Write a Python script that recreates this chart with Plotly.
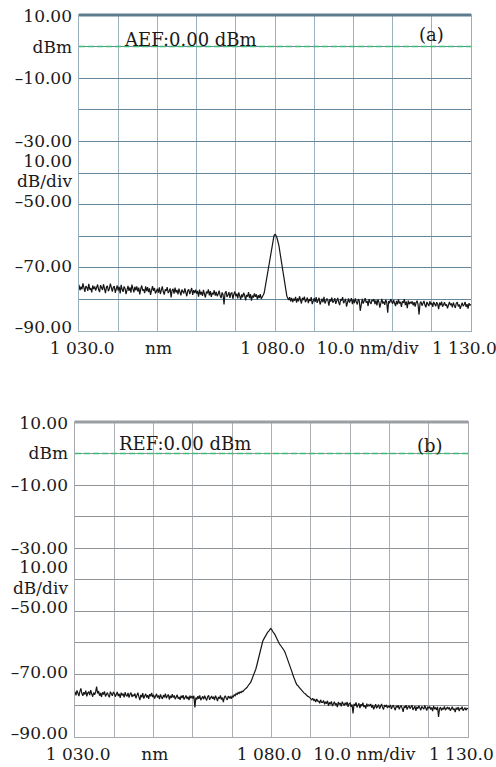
import numpy as np
import plotly.graph_objects as go

# ---------------- data ----------------
WAVELENGTH_NM = np.linspace(1030.0, 1130.0, 401)  # 0.25 nm sampling

POWER_A_DBM = [
    -75.4, -77.1, -76.0, -76.8, -74.9, -76.5, -77.6, -75.8, -76.2, -77.3, -75.1, -76.9, -76.4, -77.8, -75.6, -76.7, -75.9, -77.2, -76.1, -75.3,
    -76.9, -77.7, -75.5, -76.3, -77.0, -75.2, -76.8, -78.0, -76.1, -75.7, -77.4, -76.6, -75.0, -76.9, -77.5, -76.2, -75.8, -77.9, -76.4, -75.6,
    -77.2, -76.0, -78.1, -75.4, -76.8, -77.6, -75.9, -76.5, -78.3, -76.9, -75.7, -77.3, -76.2, -77.9, -75.3, -76.6, -77.8, -76.0, -77.1, -75.9,
    -77.5, -76.3, -78.4, -76.7, -75.6, -77.2, -76.8, -78.0, -75.9, -77.4, -76.1, -77.7, -76.5, -78.6, -76.9, -75.8, -77.3, -76.4, -78.1, -77.0,
    -76.6, -77.9, -76.2, -78.3, -77.0, -75.9, -77.6, -78.5, -76.8, -77.3, -76.1, -78.0, -77.4, -76.5, -79.4, -77.1, -76.7, -78.2, -76.3, -77.8,
    -77.0, -78.4, -76.6, -77.9, -78.7, -76.9, -77.4, -78.1, -76.5, -77.8, -79.0, -77.2, -76.8, -78.3, -77.5, -76.4, -78.6, -77.1, -78.0, -76.9,
    -78.2, -77.3, -79.1, -76.9, -78.5, -77.6, -78.9, -77.0, -78.3, -79.4, -77.5, -78.1, -76.8, -78.7, -77.4, -79.2, -77.9, -78.4, -77.1, -78.8,
    -77.6, -79.0, -78.3, -77.2, -78.8, -79.6, -77.8, -78.5, -81.6, -78.0, -77.4, -79.2, -78.6, -77.7, -79.5, -78.1, -77.9, -79.8, -78.4, -77.5,
    -79.0, -78.2, -79.7, -77.8, -78.9, -80.1, -78.4, -79.3, -77.9, -78.7, -80.3, -78.6, -79.1, -77.7, -79.6, -78.3, -80.4, -78.8, -79.4, -78.1,
    -79.2, -78.4, -80.0, -78.7, -79.5, -78.3, -79.8, -78.9, -78.6, -77.9, -76.0, -74.5, -72.5, -70.6, -68.5, -66.4, -64.5, -62.4, -60.8, -59.8,
    -59.4, -59.7, -60.5, -61.6, -63.0, -65.0, -67.0, -69.3, -71.5, -73.6, -75.5, -77.4, -78.8, -79.6, -80.2, -79.3, -80.6, -79.5, -80.9, -79.8,
    -80.4, -79.2, -81.0, -79.7, -80.6, -79.0, -80.8, -81.3, -79.5, -80.2, -79.1, -80.9, -80.3, -79.4, -81.2, -79.9, -80.5, -79.3, -81.5, -80.1,
    -79.6, -80.8, -79.3, -81.1, -80.0, -79.5, -81.6, -80.4, -79.8, -80.9, -79.2, -81.3, -80.6, -79.7, -80.3, -82.0, -79.9, -80.7, -79.4, -81.0,
    -80.5, -79.6, -81.4, -80.1, -79.5, -80.9, -81.8, -79.9, -80.4, -79.3, -81.2, -80.6, -79.8, -82.3, -80.2, -79.7, -81.0, -80.3, -79.6, -81.5,
    -80.0, -81.2, -79.7, -80.8, -81.6, -79.9, -80.4, -83.6, -80.7, -79.8, -81.3, -80.2, -79.6, -81.0, -80.5, -82.1, -79.9, -80.9, -81.4, -80.1,
    -80.6, -79.9, -81.5, -80.3, -81.9, -80.0, -80.8, -82.6, -80.4, -79.8, -81.3, -80.7, -81.7, -80.1, -80.9, -84.2, -80.5, -81.2, -79.9, -81.0,
    -81.4, -80.2, -81.0, -82.1, -80.5, -81.6, -80.0, -81.3, -80.8, -82.4, -80.6, -81.1, -79.9, -81.8, -80.7, -82.8, -80.4, -81.5, -80.9, -81.2,
    -80.6, -81.9, -80.9, -82.3, -81.0, -80.4, -81.7, -84.8, -81.2, -80.7, -82.0, -81.4, -80.5, -81.8, -82.5, -80.8, -81.3, -82.1, -80.6, -81.6,
    -81.1, -82.4, -80.8, -81.7, -82.2, -80.9, -81.5, -83.1, -81.0, -81.9, -80.7, -82.3, -81.4, -80.9, -82.0, -81.6, -82.8, -81.2, -80.8, -81.8,
    -81.3, -82.5, -81.0, -81.9, -82.7, -81.2, -80.9, -82.2, -81.6, -83.0, -81.4, -81.0, -82.1, -81.7, -80.8, -82.4, -81.5, -82.9, -81.2, -81.8,
    -81.6,
]

POWER_B_DBM = [
    -75.6, -76.8, -75.2, -76.4, -77.0, -75.5, -74.6, -76.2, -76.9, -75.8, -76.5, -75.3, -77.1, -76.0, -75.7, -76.7, -75.1, -76.3, -77.2, -75.9,
    -76.6, -75.7, -74.0, -76.2, -75.4, -76.9, -76.0, -77.3, -75.8, -76.5, -75.5, -77.1, -76.4, -75.9, -76.8, -77.4, -75.6, -76.3, -76.9, -75.8,
    -76.1, -77.2, -76.5, -75.7, -77.0, -76.3, -77.6, -75.9, -76.8, -76.2, -77.4, -75.8, -76.7, -77.1, -76.0, -77.5, -76.4, -75.9, -77.3, -76.6,
    -77.0, -76.2, -77.7, -76.5, -75.9, -77.2, -78.3, -76.6, -77.4, -76.1, -77.8, -76.9, -76.3, -77.5, -76.7, -77.9, -76.4, -77.1, -76.0, -77.3,
    -76.6, -77.8, -77.1, -76.3, -77.5, -76.8, -78.0, -76.5, -77.3, -77.9, -76.7, -77.4, -76.2, -77.7, -77.0, -76.5, -78.1, -76.9, -77.6, -76.4,
    -77.5, -76.8, -78.0, -77.1, -76.6, -77.8, -77.3, -78.2, -76.9, -77.6, -76.7, -78.1, -77.4, -76.8, -77.9, -77.2, -78.3, -76.9, -77.7, -77.0,
    -77.8, -76.9, -80.6, -77.5, -78.1, -77.0, -77.9, -76.8, -78.3, -77.4, -77.1, -78.0, -76.9, -77.7, -78.4, -77.2, -76.8, -78.2, -77.5, -77.0,
    -77.9, -77.2, -78.3, -76.9, -77.6, -78.6, -77.3, -77.8, -76.8, -78.1, -77.5, -78.9, -77.4, -76.9, -77.8, -78.2, -77.0, -77.6, -77.2, -77.9,
    -76.9, -77.4, -76.6, -76.9, -76.2, -76.5, -75.9, -76.2, -75.7, -75.9, -75.5, -75.6, -75.1, -74.9, -74.5, -74.3, -73.8, -73.5, -73.0, -72.5,
    -71.8, -71.1, -70.3, -69.5, -68.5, -67.3, -66.0, -64.4, -63.0, -61.7, -60.6, -59.7, -59.0, -58.4, -57.6, -57.3, -56.8, -56.5, -56.0, -55.6,
    -55.8, -56.5, -56.9, -57.2, -57.9, -58.2, -59.0, -59.8, -60.4, -60.8, -61.2, -61.5, -62.0, -62.6, -63.3, -64.1, -65.0, -65.8, -66.6, -67.5,
    -68.4, -69.5, -70.5, -71.5, -72.4, -72.9, -73.5, -73.7, -74.2, -74.6, -74.9, -75.3, -75.6, -76.0, -76.2, -76.6, -76.7, -77.1, -77.2, -77.5,
    -77.6, -78.2, -77.7, -78.4, -78.1, -78.9, -77.9, -78.6, -78.6, -79.3, -78.2, -79.0, -79.0, -78.4, -79.6, -78.8, -79.4, -78.5, -80.1, -79.0,
    -79.6, -78.7, -80.2, -79.1, -78.8, -79.9, -79.3, -80.5, -78.9, -79.7, -79.2, -80.3, -78.8, -79.5, -80.0, -79.1, -79.8, -78.9, -80.4, -79.4,
    -79.2, -80.4, -79.7, -82.5, -79.5, -80.1, -79.0, -80.6, -79.8, -79.3, -80.8, -79.6, -80.2, -79.1, -80.5, -79.9, -81.0, -79.4, -80.3, -79.7,
    -80.2, -79.5, -80.7, -79.8, -81.2, -80.0, -79.6, -80.9, -80.3, -79.7, -81.0, -80.1, -79.5, -80.6, -81.3, -79.9, -80.4, -79.8, -80.8, -80.2,
    -80.5, -79.8, -81.1, -80.3, -79.9, -80.8, -81.5, -80.1, -80.6, -79.9, -81.2, -80.4, -80.0, -80.9, -82.0, -80.3, -80.7, -79.9, -81.3, -80.5,
    -80.1, -81.0, -80.6, -79.9, -81.4, -80.5, -80.2, -81.7, -80.4, -81.0, -80.1, -80.8, -81.5, -80.3, -80.7, -81.2, -80.0, -80.9, -81.6, -80.4,
    -80.9, -80.3, -81.3, -80.6, -81.8, -80.2, -81.0, -80.7, -81.4, -80.4, -83.6, -81.1, -80.5, -81.6, -80.8, -81.2, -80.3, -81.5, -80.9, -80.5,
    -81.2, -80.6, -81.7, -80.9, -80.4, -81.4, -81.0, -82.1, -80.7, -81.3, -80.5, -81.8, -80.9, -81.1, -80.4, -81.6, -81.0, -80.7, -81.5, -80.9,
    -81.0,
]

REF_LEVEL_DBM = 0.0
X_TICK_LABELS = ["1 030.0", "nm", "1 080.0", "10.0 nm/div", "1 130.0"]
Y_TICK_LABELS = ["10.00", "dBm", "–10.00", "–30.00", "10.00", "dB/div",
                 "–50.00", "–70.00", "–90.00"]
PANEL_TEXT_A = "AEF:0.00 dBm"
PANEL_TEXT_B = "REF:0.00 dBm"

# ---------------- layout constants ----------------
W, H = 496, 767
X_LABEL_POS = [1030.8, 1050.3, 1079.4, 1103.6, 1128.3]
Y_LABEL_POS = [9.6, 0, -10, -30, -36.2, -42.7, -48.8, -69.5, -88.8]
FONT = "DejaVu Serif"
TXT = "#1a1a1a"


def px_dom_x(a, b):
    return [a / W, b / W]


def px_dom_y(top, bottom):
    return [1 - bottom / H, 1 - top / H]


fig = go.Figure()
fig.add_trace(go.Scatter(x=WAVELENGTH_NM, y=POWER_A_DBM, mode="lines",
                         line=dict(color="#161616", width=1.2),
                         xaxis="x", yaxis="y", showlegend=False))
fig.add_trace(go.Scatter(x=WAVELENGTH_NM, y=POWER_B_DBM, mode="lines",
                         line=dict(color="#161616", width=1.2),
                         xaxis="x2", yaxis="y2", showlegend=False))

panels = [
    dict(xd=px_dom_x(79, 471), yd=px_dom_y(15, 331), hcol="#66869b",
         vcol="#9cb1c0", lcol="#98aebd", tcol="#5e7c90", sfx="", lab="3"),
    dict(xd=px_dom_x(75, 468), yd=px_dom_y(422, 737), hcol="#8f9499",
         vcol="#acb0b4", lcol="#a6aaae", tcol="#9a9ea3", sfx="2", lab="4"),
]

lay = dict(width=W, height=H, margin=dict(l=0, r=0, t=0, b=0, pad=0),
           autosize=False, template="none",
           paper_bgcolor="white", plot_bgcolor="white", showlegend=False)

for p in panels:
    s, L = p["sfx"], p["lab"]
    xa, ya = "xaxis" + s, "yaxis" + s
    xr, yr = "x" + s, "y" + s
    lay[xa] = dict(domain=p["xd"], anchor=yr, range=[1030, 1130],
                   tick0=1030, dtick=10, showticklabels=False, ticks="",
                   showgrid=True, gridcolor=p["vcol"], gridwidth=1,
                   zeroline=False, showline=True, mirror=True,
                   linecolor=p["lcol"], linewidth=1, automargin=False)
    lay[ya] = dict(domain=p["yd"], anchor=xr, range=[-90, 10],
                   tick0=0, dtick=10, showticklabels=False, ticks="",
                   showgrid=True, gridcolor=p["hcol"], gridwidth=1,
                   zeroline=False, showline=True, mirror=True,
                   linecolor=p["lcol"], linewidth=1, automargin=False)
    # label-only overlay axes
    lay["xaxis" + L] = dict(overlaying=xr, anchor=yr, side="bottom",
                            range=[1030, 1130], tickmode="array",
                            tickvals=X_LABEL_POS, ticktext=X_TICK_LABELS,
                            showgrid=False, zeroline=False, showline=False,
                            ticks="", ticklabelstandoff=5, automargin=False,
                            ticklabeloverflow="allow",
                            tickfont=dict(family=FONT, size=17, color=TXT))
    lay["yaxis" + L] = dict(overlaying=yr, anchor=xr, side="left",
                            range=[-90, 10], tickmode="array",
                            tickvals=Y_LABEL_POS, ticktext=Y_TICK_LABELS,
                            showgrid=False, zeroline=False, showline=False,
                            ticks="", ticklabelstandoff=6, automargin=False,
                            ticklabeloverflow="allow",
                            tickfont=dict(family=FONT, size=17, color=TXT))

fig.update_layout(**lay)

# invisible traces so the label overlay axes render
for L in ("3", "4"):
    fig.add_trace(go.Scatter(x=[1030], y=[-90], mode="markers",
                             marker=dict(opacity=0), hoverinfo="skip",
                             xaxis="x" + L, yaxis="y" + L, showlegend=False))

for p in panels:
    s = p["sfx"]
    fig.add_shape(type="line", xref="x" + s + " domain", yref="y" + s + " domain",
                  x0=0, x1=1, y0=1, y1=1,
                  line=dict(color=p["tcol"], width=3), layer="above")
    fig.add_shape(type="line", xref="x" + s + " domain", yref="y" + s,
                  x0=0, x1=1, y0=REF_LEVEL_DBM, y1=REF_LEVEL_DBM,
                  line=dict(color="#3dbb78", width=1.5, dash="6px,3px"),
                  layer="above")

fig.add_annotation(text=PANEL_TEXT_A, xref="x", yref="y", x=1041.0, y=2.4,
                   xanchor="left", yanchor="middle", showarrow=False,
                   font=dict(family=FONT, size=18, color=TXT))
fig.add_annotation(text="(a)", xref="x", yref="y", x=1119.8, y=3.7,
                   xanchor="center", yanchor="middle", showarrow=False,
                   font=dict(family=FONT, size=18, color=TXT))
fig.add_annotation(text=PANEL_TEXT_B, xref="x2", yref="y2", x=1040.7, y=3.3,
                   xanchor="left", yanchor="middle", showarrow=False,
                   font=dict(family=FONT, size=18, color=TXT))
fig.add_annotation(text="(b)", xref="x2", yref="y2", x=1120.3, y=2.4,
                   xanchor="center", yanchor="middle", showarrow=False,
                   font=dict(family=FONT, size=18, color=TXT))

fig.write_html("out.html",
               config={"displayModeBar": False, "staticPlot": True},
               post_script="document.body.style.margin='0px';"
                           "document.body.style.overflow='hidden';")
